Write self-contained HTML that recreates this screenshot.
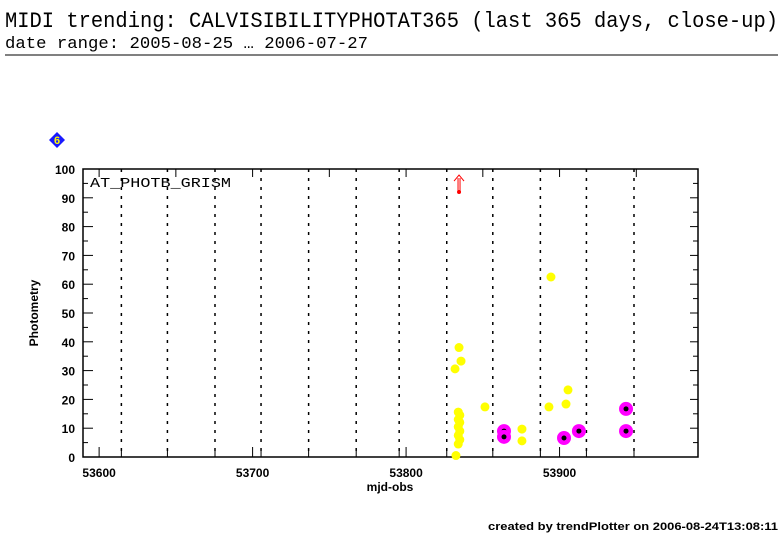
<!DOCTYPE html>
<html><head><meta charset="utf-8"><style>
html,body{margin:0;padding:0;background:#fff;width:782px;height:542px;overflow:hidden}
svg{display:block}
</style></head><body>
<svg id="chart" width="782" height="542" xmlns="http://www.w3.org/2000/svg">
<text x="5" y="27" font-family="Liberation Mono, monospace" font-size="22" textLength="773" lengthAdjust="spacingAndGlyphs">MIDI trending: CALVISIBILITYPHOTAT365 (last 365 days, close-up)</text>
<text x="5" y="48" font-family="Liberation Mono, monospace" font-size="17" textLength="363" lengthAdjust="spacingAndGlyphs">date range: 2005-08-25 … 2006-07-27</text>
<line x1="5" y1="55" x2="778" y2="55" stroke="#000" stroke-width="1"/>
<g>
<polygon points="57,132 65,140 57,148 49,140" fill="#1a1aff"/>
<text x="57" y="144" text-anchor="middle" font-family="Liberation Sans, sans-serif" font-weight="bold" font-size="11" fill="#ffff00">6</text>
</g>
<g id="grid"></g>
<g id="axes"></g>
<g id="marks"></g>
<text x="90" y="187" font-family="Liberation Mono, monospace" font-size="14" textLength="141" lengthAdjust="spacingAndGlyphs">AT_PHOTB_GRISM</text>
<text transform="translate(38,313) rotate(-90)" text-anchor="middle" font-family="Liberation Sans, sans-serif" font-weight="bold" font-size="12">Photometry</text>
<text x="390" y="491" text-anchor="middle" font-family="Liberation Sans, sans-serif" font-weight="bold" font-size="12">mjd-obs</text>
<text x="488" y="530" font-family="Liberation Sans, sans-serif" font-weight="bold" font-size="11" textLength="290" lengthAdjust="spacingAndGlyphs">created by trendPlotter on 2006-08-24T13:08:11</text>
</svg>
<script>
const xTicks=[53600,53700,53800,53900];
const yTicks=[0,10,20,30,40,50,60,70,80,90,100];
const monthStarts=[53614,53644,53675,53705,53736,53767,53795,53826,53856,53887,53917,53948];
const yellowX=[53834.5,53835.8,53831.9,53834,53835,53834,53835,53834,53835,53834,53835,53834,53832.5,53851.4,53894.4,53905.5,53904.2,53893.1,53875.5,53875.5];
const yellowY=[38,33.3,30.6,15.6,14.5,13,12,10.5,9,7.5,6,4.5,0.5,17.4,62.5,23.3,18.4,17.4,9.7,5.6];
const magentaX=[53863.8,53863.8,53902.9,53912.6,53943.3,53943.3];
const magentaY=[9,7,6.6,9,16.7,9];
const upperX=[53834.5];
const upperY=[92];
const L=83,R=698,T=169,B=457,X0=53589.5,X1=53990.2,Y0=0,Y1=100;
const sx=v=>L+(v-X0)/(X1-X0)*(R-L);
const sy=v=>B-(v-Y0)/(Y1-Y0)*(B-T);
const NS="http://www.w3.org/2000/svg";
function mk(t,a,p){const e=document.createElementNS(NS,t);for(const k in a)e.setAttribute(k,a[k]);p.appendChild(e);return e;}
const grid=document.getElementById('grid'),axes=document.getElementById('axes'),marks=document.getElementById('marks');
monthStarts.forEach(m=>{
 const l=mk('line',{x1:sx(m+0.5),x2:sx(m+0.5),y1:T,y2:B,stroke:'#000','stroke-width':1.5,'stroke-dasharray':'3,6'},grid);
 
 
 mk('line',{x1:sx(m+0.5),x2:sx(m+0.5),y1:B,y2:B-6,stroke:'#000'},axes);
});
const fr=mk('rect',{x:L,y:T,width:R-L,height:B-T,fill:'none',stroke:'#000','stroke-width':1.5},axes);


xTicks.forEach(v=>{
 mk('line',{x1:sx(v),x2:sx(v),y1:B,y2:B-10,stroke:'#000'},axes);
 const t=mk('text',{x:sx(v),y:B+20,'text-anchor':'middle','font-family':'Liberation Sans, sans-serif','font-weight':'bold','font-size':12},axes);
 t.textContent=v;
 
 
});
for(let v=53600;v<X1;v+=50){mk('line',{x1:sx(v),x2:sx(v),y1:T,y2:T+8,stroke:'#000'},axes);}
yTicks.forEach(v=>{
 mk('line',{x1:L,x2:L+10,y1:sy(v),y2:sy(v),stroke:'#000'},axes);
 mk('line',{x1:R,x2:R-8,y1:sy(v),y2:sy(v),stroke:'#000'},axes);
 if(v<100){mk('line',{x1:L,x2:L+5,y1:sy(v+5),y2:sy(v+5),stroke:'#000'},axes);mk('line',{x1:R,x2:R-5,y1:sy(v+5),y2:sy(v+5),stroke:'#000'},axes);}
 const t=mk('text',{x:L-8,y:sy(v)+5,'text-anchor':'end','font-family':'Liberation Sans, sans-serif','font-weight':'bold','font-size':12},axes);
 t.textContent=v;
 
 
});
yellowX.forEach((x,i)=>{
 const c=mk('circle',{cx:sx(x),cy:sy(yellowY[i]),r:4.5,fill:'#ffff00'},marks);
 
 
});
magentaX.forEach((x,i)=>{
 const c=mk('circle',{cx:sx(x),cy:sy(magentaY[i]),r:7,fill:'#ff00ff'},marks);
 
 
 mk('circle',{cx:sx(x),cy:sy(magentaY[i]),r:2.5,fill:'#000'},marks);
});
upperX.forEach((x,i)=>{
 const g=mk('g',{},marks);
 
 
 const px=sx(x),py=sy(upperY[i]);
 mk('circle',{cx:px,cy:py,r:2,fill:'#ff0000'},g);
 mk('path',{d:`M${px-1} ${py} V${py-14} M${px+1} ${py} V${py-14} M${px-5} ${py-11} L${px} ${py-17} L${px+5} ${py-11}`,stroke:'#ff0000',fill:'none','stroke-width':1},g);
});
</script>
</body></html>
